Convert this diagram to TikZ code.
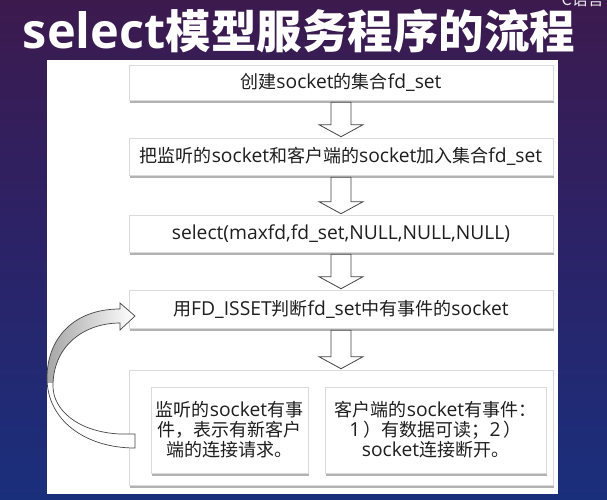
\documentclass[tikz,border=0pt]{standalone}
\usepackage{fontspec}
\setmainfont[Kerning=Off]{Noto Sans CJK SC}
\newfontfamily\lat[Scale=1.07]{Open Sans}
\usetikzlibrary{calc,shadows}
\definecolor{bgtop}{HTML}{3C1A4E}
\definecolor{bgmid}{HTML}{2B2368}
\definecolor{bgbot}{HTML}{1A2F7C}
\definecolor{txt}{HTML}{1E1E1E}
\definecolor{edgec}{HTML}{DADADA}
\definecolor{arrc}{HTML}{454545}
\newcommand\blockdown[2]{%
  \draw[blockarrow] let \p1=(#1.south), \p2=(#2.north) in
   (\x1-10pt,\y1-2pt) -- (\x1+10pt,\y1-2pt) -- (\x1+10pt,\y2+13pt) -- (\x1+22pt,\y2+13pt)
   -- (\x1,\y2+1pt) -- (\x1-22pt,\y2+13pt) -- (\x1-10pt,\y2+13pt) -- cycle;}
\def\curvepath{(135,434) -- (120,434) .. controls (78,432) and (53,410) .. (53,386)
  .. controls (53,345) and (85,323) .. (120,323) -- (120,330) -- (135,316) -- (120,303)
  -- (120,309) .. controls (72,309) and (47,340) .. (47,378)
  .. controls (47,420) and (85,448) .. (135,448) -- cycle}
\begin{document}
\begin{tikzpicture}[x=1pt,y=-1pt,
  box/.style={draw=edgec, line width=0.6pt, fill=white, inner sep=0pt, text=txt,
    font=\fontsize{18}{20}\selectfont, align=center,
    drop shadow={shadow xshift=1.2pt, shadow yshift=-2.5pt, opacity=0.3, fill=black}},
  blockarrow/.style={draw=arrc, line width=0.8pt, fill=white, line join=miter}]
\useasboundingbox (0,0) rectangle (607,499);
% background
\shade[top color=bgtop, bottom color=bgbot, middle color=bgmid] (0,0) rectangle (607,499);
% corner text (cut off at the top, as in the reference)
\node[text=white!85!gray, font=\fontsize{16}{16}\selectfont, anchor=south east, inner sep=0pt] (corner) at (604,7) {C语言};
% title
\node[text=white, font=\fontsize{45.5}{48}\selectfont\bfseries, inner sep=0pt] (title) at (299,31) {{\lat select}模型服务程序的流程};
% white panel
\fill[white] (47,60) rectangle (558,494);
% boxes
\node[box, minimum width=424pt, minimum height=35pt] (b1) at (341,82.5) {创建{\lat socket}的集合{\lat fd\_set}};
\node[box, minimum width=424pt, minimum height=37pt] (b2) at (341,156.5) {把监听的{\lat socket}和客户端的{\lat socket}加入集合{\lat fd\_set}};
\node[box, minimum width=424pt, minimum height=37pt] (b3) at (341,233.5) {{\lat select(maxfd,fd\_set,NULL,NULL,NULL)}};
\node[box, minimum width=424pt, minimum height=38pt] (b4) at (341,309) {用{\lat FD\_ISSET}判断{\lat fd\_set}中有事件的{\lat socket}};
\node[box, minimum width=424pt, minimum height=115pt] (b5) at (341,427.5) {};
\node[box, minimum width=157pt, minimum height=86pt] (ba) at (229.5,430) {监听的{\lat socket}有事\\件，表示有新客户\\端的连接请求。};
\node[box, minimum width=221pt, minimum height=86pt] (bb) at (435.5,430) {客户端的{\lat socket}有事件：\\{\lat 1}\hspace{3pt}）有数据可读；{\lat 2}\hspace{3pt}）\\{\lat socket}连接断开。};
% down block arrows
\blockdown{b1}{b2}
\blockdown{b2}{b3}
\blockdown{b3}{b4}
\blockdown{b4}{b5}
% curved loop-back arrow from b5 to b4
\fill[white] \curvepath;
\begin{scope}
  \clip (40,295) rectangle (140,382);
  \shade[left color=gray!70, right color=white] \curvepath;
\end{scope}
\draw[arrc, line width=0.7pt, line join=miter] \curvepath;
\end{tikzpicture}
\end{document}
